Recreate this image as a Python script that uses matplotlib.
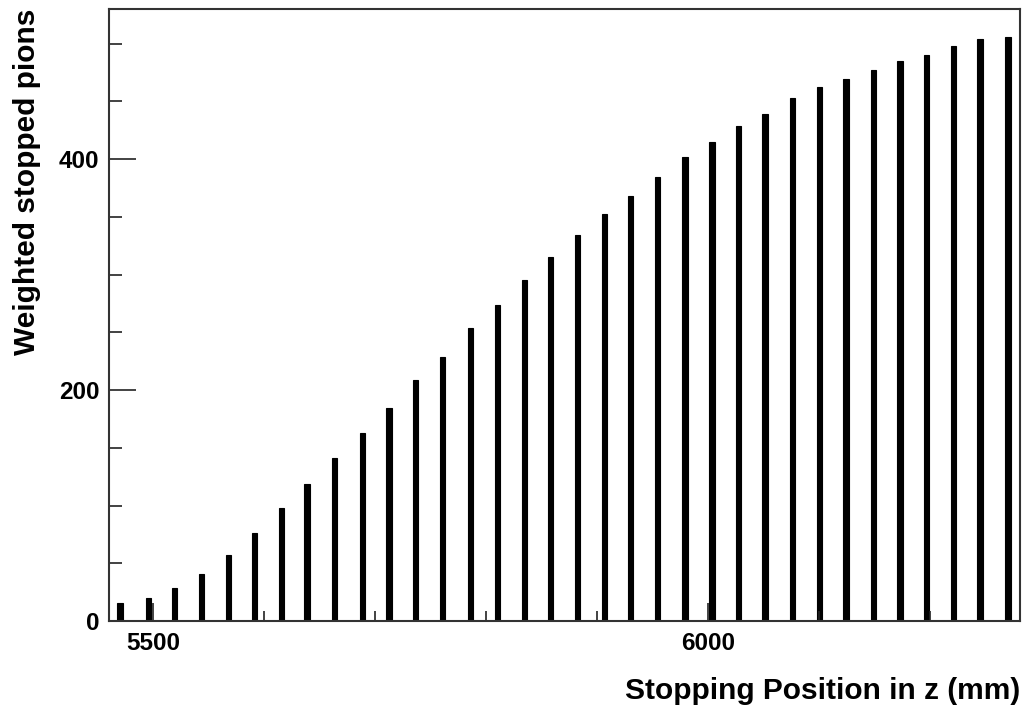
import matplotlib.pyplot as plt
from matplotlib.ticker import MultipleLocator

# stopping position of each filled bin (mm) and its weighted count
z_pos = [5470.3, 5496.0, 5519.4, 5543.7, 5568.0, 5591.4, 5615.8, 5638.7,
         5663.5, 5688.7, 5712.6, 5736.5, 5760.8, 5786.0, 5810.4, 5834.7,
         5858.1, 5882.4, 5906.8, 5930.2, 5954.5, 5979.3, 6003.6, 6027.5,
         6051.4, 6076.1, 6100.5, 6124.3, 6149.1, 6173.0, 6196.8, 6221.2,
         6245.0, 6270.3]
stopped = [15.9, 20.2, 28.3, 40.5, 57.2, 76.0, 97.6, 118.7,
           141.0, 162.6, 184.3, 208.8, 228.5, 253.6, 273.8, 295.5,
           315.2, 333.9, 352.4, 367.7, 384.2, 401.8, 414.5, 428.3,
           439.0, 453.0, 462.1, 469.7, 477.5, 485.3, 490.2, 497.7,
           504.1, 505.8]

plt.rcParams['font.family'] = ['Liberation Sans', 'DejaVu Sans']
plt.rcParams['font.weight'] = 'bold'

fig = plt.figure(figsize=(10.26, 7.06), dpi=100)
ax = fig.add_axes([0.1062, 0.1204, 0.8880, 0.8669])

ax.bar(z_pos, stopped, width=5.0, color='black', edgecolor='black',
       linewidth=0.8)

ax.set_xlim(5460.4, 6281)
ax.set_ylim(0, 530)

ax.xaxis.set_major_locator(MultipleLocator(500))
ax.xaxis.set_minor_locator(MultipleLocator(100))
ax.yaxis.set_major_locator(MultipleLocator(200))
ax.yaxis.set_minor_locator(MultipleLocator(50))

ax.tick_params(axis='x', which='major', direction='in', length=13,
               width=1.2, labelsize=17.5, pad=8, color='#222222')
ax.tick_params(axis='x', which='minor', direction='in', length=7.5,
               width=1.2, color='#222222')
ax.tick_params(axis='y', which='major', direction='in', length=19.5,
               width=1.2, labelsize=17.5, pad=7, color='#222222')
ax.tick_params(axis='y', which='minor', direction='in', length=9.5,
               width=1.2, color='#222222')

for s in ax.spines.values():
    s.set_linewidth(1.5)
    s.set_color('#333333')

ax.set_xlabel('Stopping Position in z (mm)', fontsize=21.5,
              fontweight='bold', loc='right', labelpad=16)
ax.set_ylabel('Weighted stopped pions', fontsize=21.5,
              fontweight='bold', loc='top', labelpad=13)

plt.savefig('out.png', dpi=100)
